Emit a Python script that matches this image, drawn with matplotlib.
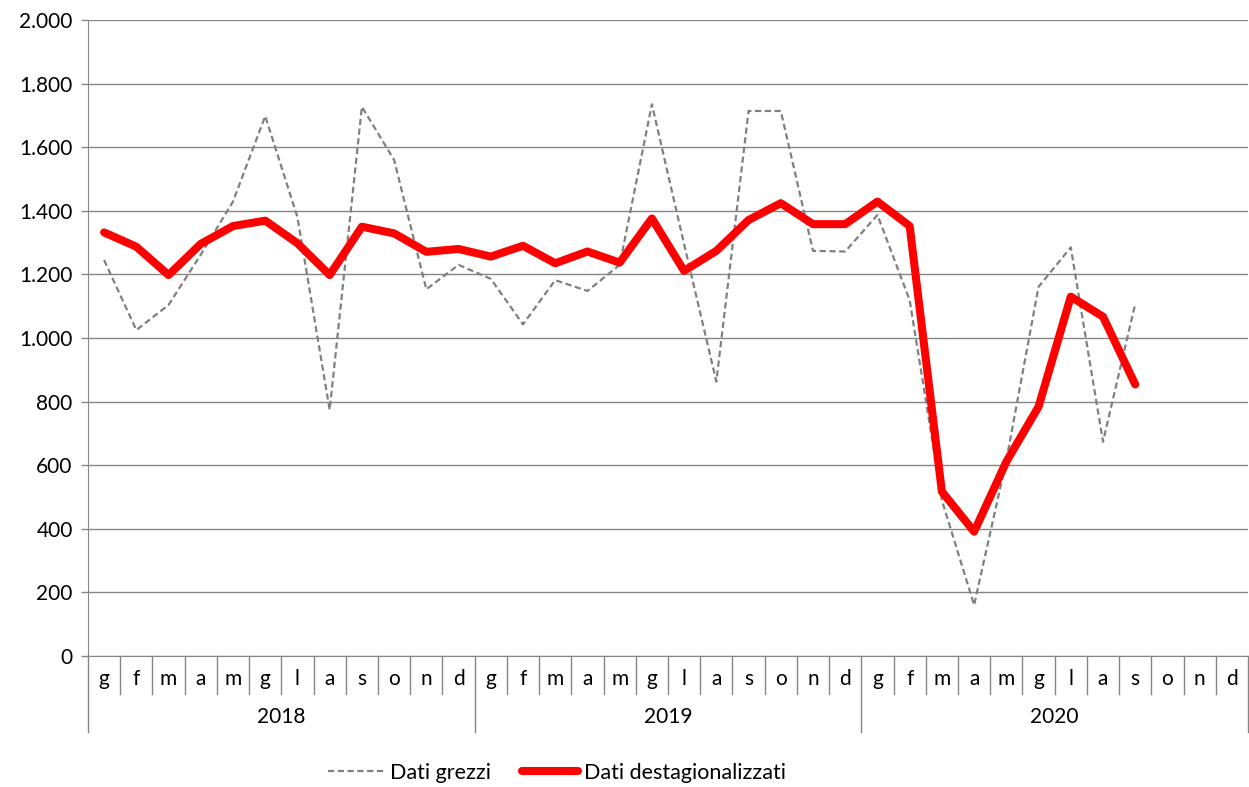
import matplotlib
matplotlib.use("Agg")
import matplotlib.pyplot as plt
from matplotlib.ticker import FuncFormatter
import numpy as np

plt.rcParams['font.family'] = ['Lato', 'DejaVu Sans']

years = ["2018", "2019", "2020"]
months = ["g", "f", "m", "a", "m", "g", "l", "a", "s", "o", "n", "d"]

grezzi = [1245, 1025, 1104, 1262, 1429, 1698, 1380, 774, 1727, 1560, 1153, 1230,
          1186, 1043, 1182, 1148, 1230, 1735, 1295, 863, 1714, 1714, 1274, 1272,
          1387, 1119, 490, 160, 615, 1161, 1285, 674, 1107]
destag = [1332, 1287, 1198, 1296, 1352, 1369, 1298, 1198, 1350, 1329, 1271, 1280,
          1256, 1290, 1235, 1272, 1237, 1376, 1211, 1274, 1371, 1424, 1358, 1358,
          1429, 1352, 517, 391, 611, 784, 1130, 1067, 854]

n_total = len(years) * len(months)

fig = plt.figure(figsize=(12.49, 7.87), dpi=100)
ax = fig.add_axes([88/1249, 131/787, 1160/1249, 636/787])

x_g = np.arange(len(grezzi))
x_d = np.arange(len(destag))
ax.plot(x_g, grezzi, color='#808080', lw=1.6, dashes=(2.8, 1.6), label='Dati grezzi', zorder=3)
ax.plot(x_d, destag, color='#ff0000', lw=5.8, solid_joinstyle='round', solid_capstyle='round',
        label='Dati destagionalizzati', zorder=4)

ax.set_xlim(-0.5, n_total - 0.5)
ax.set_ylim(0, 2000)
ax.set_yticks(np.arange(0, 2001, 200))
ax.yaxis.set_major_formatter(FuncFormatter(lambda v, p: f"{int(v):,}".replace(",", ".")))
ax.tick_params(axis='y', length=5, width=1, color='#868686', labelsize=15, pad=6)
ax.set_xticks([])
ax.grid(axis='y', color='#868686', lw=1)
ax.set_axisbelow(True)
for s in ['top', 'right']:
    ax.spines[s].set_visible(False)
ax.spines['left'].set_color('#868686')
ax.spines['bottom'].set_color('#868686')

trans = ax.get_xaxis_transform()
ah = 636.0
y_month_sep = -(694 - 656) / ah
y_year_sep = -(732 - 656) / ah
y_month_lbl = -(679 - 656) / ah
y_year_lbl = -(717 - 656) / ah

for i in range(n_total + 1):
    xb = i - 0.5
    bottom = y_year_sep if i % 12 == 0 else y_month_sep
    ax.plot([xb, xb], [0, bottom], transform=trans, color='#868686', lw=1, clip_on=False)
for i in range(n_total):
    ax.text(i, y_month_lbl, months[i % 12], transform=trans, ha='center', va='center', fontsize=15)
for k, yr in enumerate(years):
    ax.text(k * 12 + 5.5, y_year_lbl, yr, transform=trans, ha='center', va='center', fontsize=15)

leg = fig.legend(loc='center', bbox_to_anchor=(557/1249, 1 - 773/787), ncol=2, frameon=False,
                 fontsize=15.5, handlelength=2.6, columnspacing=1.4, handletextpad=0.3)

fig.savefig("out.png", dpi=100)
